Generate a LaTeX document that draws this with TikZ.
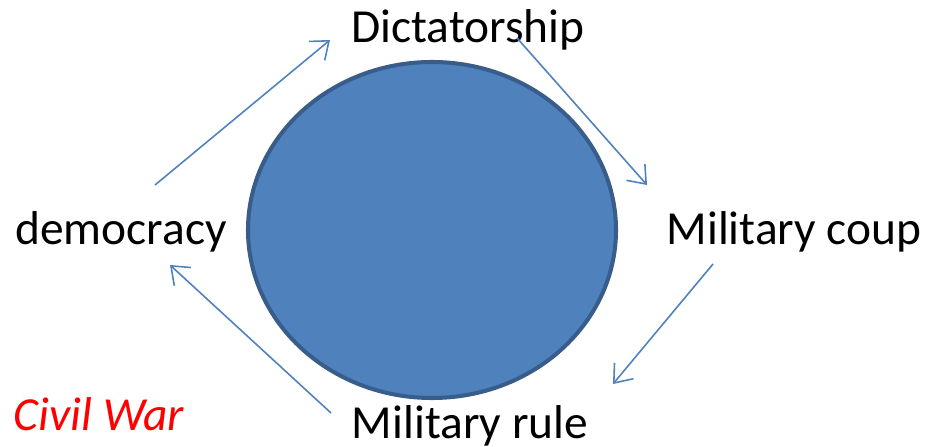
\documentclass[tikz,border=0pt]{standalone}
\usepackage{fontspec}
\setmainfont{Carlito}
\usetikzlibrary{arrows.meta}
\definecolor{cyclefill}{HTML}{4F81BD}
\definecolor{cycleedge}{HTML}{385D8A}
\tikzset{
  stage/.style={anchor=base, inner sep=0pt, font=\fontsize{27}{32}\selectfont},
  flow/.style={-{Straight Barb[length=9pt,width=14pt]}, draw=cyclefill, line width=0.9pt}
}
\begin{document}
\begin{tikzpicture}
    \useasboundingbox (0,0) rectangle (18.54,8.92);
    \draw[fill=cyclefill, draw=cycleedge, line width=2.3pt] (8.64,4.32) ellipse (3.68 and 3.36);

    \node[stage] (dict) at (9.36,8.06) {Dictatorship};
    \node[stage] (dem) at (2.42,4.02) {democracy};
    \node[stage] (coup) at (15.88,4.02) {Military coup};
    \node[stage] (rule) at (9.40,0.16) {Military rule};
    \node[stage, text=red, font=\fontsize{27}{32}\selectfont\itshape] (war) at (1.98,0.32) {Civil War};

    \draw[flow] ([shift={(0.68,1.20)}]dem.base) -- ([shift={(-2.76,0.06)}]dict.base);
    \draw[flow] ([shift={(0.98,0.10)}]dict.base) -- ([shift={(-2.94,1.20)}]coup.base);
    \draw[flow] ([shift={(-1.62,-0.38)}]coup.base) -- ([shift={(2.86,1.08)}]rule.base);
    \draw[flow] ([shift={(-2.78,0.50)}]rule.base) -- ([shift={(0.98,-0.40)}]dem.base);
\end{tikzpicture}
\end{document}
